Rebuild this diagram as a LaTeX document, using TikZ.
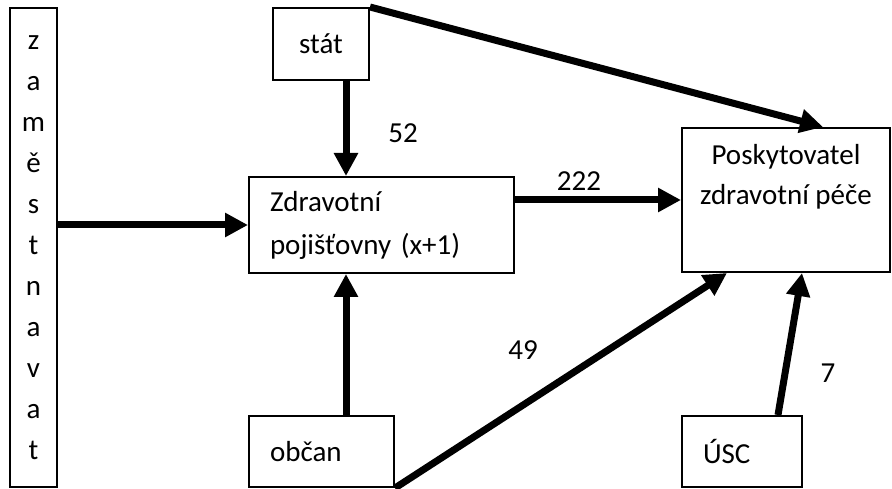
\documentclass[tikz,border=0pt]{standalone}
\usepackage{fontspec}
\setmainfont{Carlito}
\usetikzlibrary{arrows.meta}
\tikzset{
  box/.style={draw, line width=2pt, rectangle, inner sep=0pt, font={\fontsize{29}{35}\selectfont}},
  flow/.style={line width=7pt, -{Triangle[length=23pt,width=23pt]}},
  num/.style={font={\fontsize{29}{35}\selectfont}}
}
\begin{document}
\begin{tikzpicture}[x=1pt,y=-1pt]
\useasboundingbox (0,0) rectangle (892,489);
\node[box, minimum width=47, minimum height=479, align=center, font={\fontsize{29}{41}\selectfont}] (zam) at (33.5,247.5) {z\\a\\m\\ě\\s\\t\\n\\a\\v\\a\\t};
\node[box, minimum width=96, minimum height=72] (stat) at (321,44) {stát};
\node[box, minimum height=96, text width=223, inner xsep=21, align=left, font={\fontsize{29}{43}\selectfont}] (zdrav) at (381.5,225) {Zdravotní\\pojišťovny (x+1)};
\node[box, minimum width=208, minimum height=144, align=center, font={\fontsize{29}{40}\selectfont}] (posk) at (786,200) {Poskytovatel\\zdravotní péče\\\strut};
\node[box, minimum height=71, text width=103, inner xsep=21, align=left] (obcan) at (321.5,451.5) {občan};
\node[box, minimum height=71, text width=78, inner xsep=21, align=left] (usc) at (742,451.5) {ÚSC};
\draw[flow] (zam.east |- zdrav.west) -- (zdrav.west);
\draw[flow] ([xshift=25]stat.south) -- ([xshift=25]stat.south |- zdrav.north);
\draw[flow] (stat.north east) -- ([xshift=37]posk.north);
\draw[flow] (zdrav.east |- posk.west) -- (posk.west);
\draw[flow] ([xshift=24.5]obcan.north) -- ([xshift=24.5]obcan.north |- zdrav.south);
\draw[flow] (obcan.south east) -- ([xshift=-59]posk.south);
\draw[flow] ([xshift=36]usc.north) -- ([xshift=16]posk.south);
\node[num] (n52) at (403,133) {52};
\node[num] (n222) at (579,181) {222};
\node[num] (n49) at (523,350) {49};
\node[num] (n7) at (828,373) {7};
\end{tikzpicture}
\end{document}
